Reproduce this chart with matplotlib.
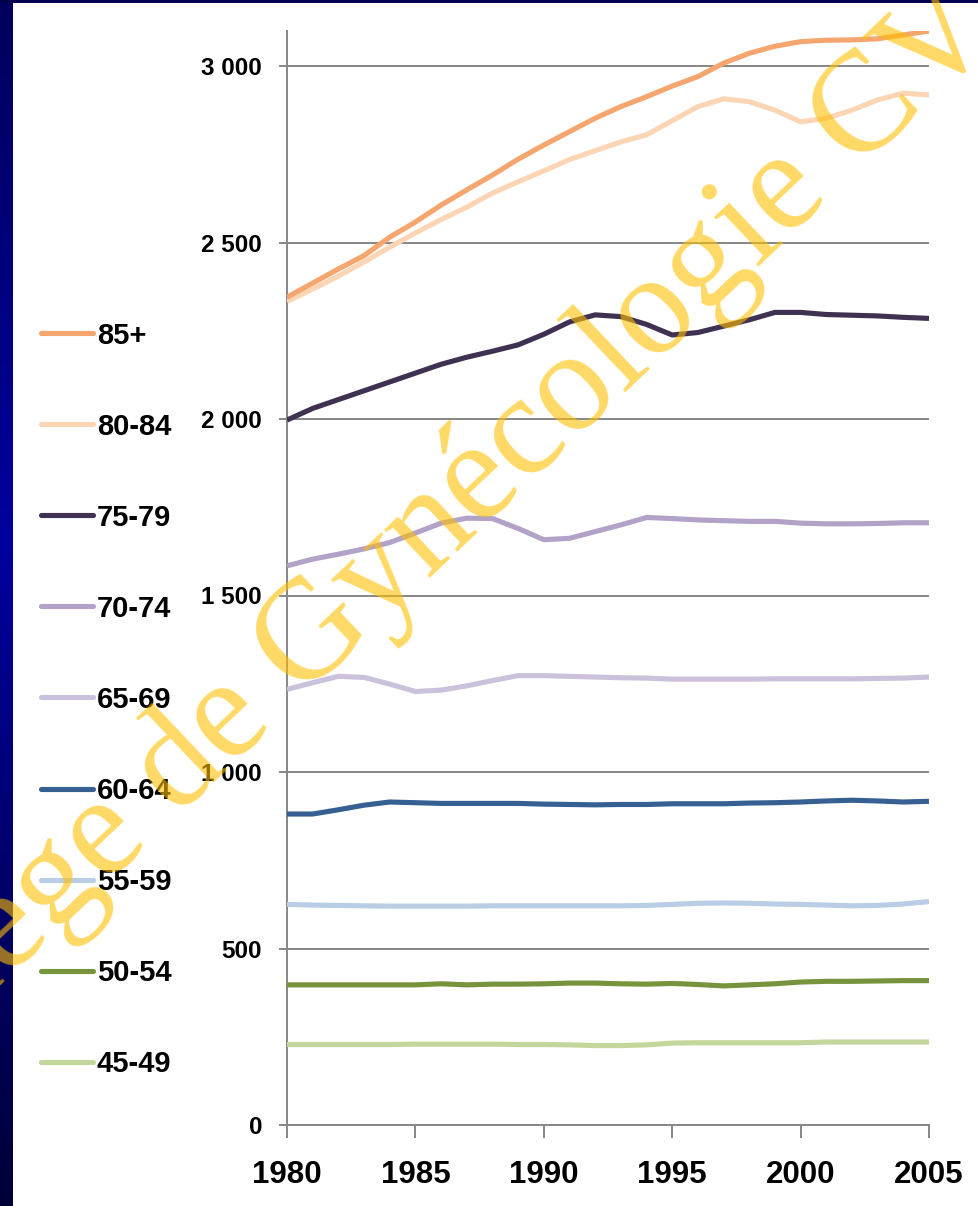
import matplotlib
matplotlib.use('Agg')
import matplotlib.pyplot as plt
from matplotlib.lines import Line2D
import numpy as np

# %%
##########
## Data ##
##########

years = list(range(1980, 2006))

labels = ['85+', '80-84', '75-79', '70-74', '65-69', '60-64', '55-59', '50-54', '45-49']
colors = ['#F5A66F', '#FCD5B5', '#3F3151', '#B2A2C7', '#CCC1DA',
          '#376092', '#B9CDE5', '#77933C', '#C3D69B']

a85 = [2345, 2385, 2425, 2463, 2515, 2558, 2606, 2649, 2691, 2736, 2776, 2814, 2852,
       2885, 2913, 2943, 2970, 3008, 3036, 3056, 3069, 3073, 3074, 3077, 3088, 3099]
a80 = [2333, 2368, 2405, 2445, 2487, 2527, 2565, 2600, 2640, 2672, 2703, 2735, 2760,
       2785, 2805, 2845, 2885, 2907, 2899, 2875, 2842, 2852, 2875, 2904, 2923, 2918]
a75 = [1997, 2030, 2055, 2080, 2105, 2130, 2155, 2175, 2192, 2210, 2240, 2275, 2295,
       2290, 2268, 2238, 2245, 2263, 2281, 2302, 2302, 2296, 2294, 2292, 2288, 2285]
a70 = [1584, 1603, 1617, 1632, 1650, 1677, 1705, 1719, 1718, 1690, 1658, 1662, 1681,
       1700, 1721, 1718, 1714, 1712, 1710, 1710, 1705, 1703, 1703, 1704, 1706, 1706]
a65 = [1234, 1253, 1271, 1268, 1249, 1228, 1232, 1244, 1259, 1273, 1273, 1271, 1269,
       1267, 1266, 1263, 1263, 1263, 1263, 1264, 1264, 1264, 1264, 1265, 1266, 1269]
a60 = [881, 881, 893, 906, 915, 913, 911, 911, 911, 911, 909, 908, 907,
       908, 908, 910, 910, 910, 912, 913, 915, 918, 920, 918, 915, 917]
a55 = [625, 623, 622, 621, 620, 620, 620, 620, 621, 621, 621, 621, 621,
       621, 622, 625, 628, 629, 628, 626, 625, 623, 621, 622, 626, 633]
a50 = [397, 397, 397, 397, 397, 397, 400, 397, 399, 399, 400, 402, 402,
       400, 399, 401, 398, 394, 397, 400, 405, 407, 407, 408, 409, 409]
a45 = [228, 228, 228, 228, 228, 229, 229, 229, 229, 228, 228, 227, 225,
       225, 227, 232, 233, 233, 233, 233, 233, 235, 235, 235, 235, 235]

series = [a85, a80, a75, a70, a65, a60, a55, a50, a45]

xticks = [1980, 1985, 1990, 1995, 2000, 2005]
yticks = [0, 500, 1000, 1500, 2000, 2500, 3000]
ytick_labels = ['0', '500', '1 000', '1 500', '2 000', '2 500', '3 000']

watermark = 'Collège de Gynécologie CVL'

# %%
##########
## Plot ##
##########

W, H = 979, 1206
fig = plt.figure(figsize=(W / 100, H / 100), dpi=100)
fig.patch.set_facecolor('white')

# slide frame: blue gradient strip on the left, thin navy band on top
strip = fig.add_axes([0, 0, 13 / W, 1])
grad = np.interp(np.linspace(0, 1, 256), [0, 0.45, 1], [0.36, 0.62, 0.22])
img = np.zeros((256, 1, 3))
img[:, 0, 2] = grad
strip.imshow(img, aspect='auto', extent=[0, 1, 0, 1])
strip.axis('off')
top = fig.add_axes([0, 1 - 3 / H, 1, 3 / H])
top.set_facecolor('#00004E')
top.set_xticks([])
top.set_yticks([])
for s in top.spines.values():
    s.set_visible(False)

y_top = 1125 - 3100 * 1059 / 3000
ax = fig.add_axes([287 / W, 1 - 1125 / H, 642 / W, (1125 - y_top) / H])
ax.set_xlim(1980, 2005)
ax.set_ylim(0, 3100)

grid_c = '#868686'
for v in yticks[1:]:
    ax.axhline(v, color=grid_c, lw=1.4, zorder=1)

for vals, c in list(zip(series, colors))[::-1]:
    ax.plot(years, vals, color=c, lw=3.7, solid_joinstyle='round',
            solid_capstyle='butt', zorder=3)

for s in ['top', 'right']:
    ax.spines[s].set_visible(False)
for s in ['left', 'bottom']:
    ax.spines[s].set_color(grid_c)
    ax.spines[s].set_linewidth(1.4)

font = 'Liberation Sans'
tick_font = {'family': font, 'weight': 'bold'}
ax.set_yticks(yticks)
ax.set_yticklabels(ytick_labels, fontdict=tick_font, fontsize=17.5)
ax.set_xticks(xticks)
ax.set_xticklabels([str(x) for x in xticks], fontdict=tick_font, fontsize=22.5)
ax.tick_params(axis='y', length=6, width=1.4, color=grid_c, pad=12)
ax.tick_params(axis='x', length=9, width=1.4, color=grid_c, pad=16)

# legend, drawn by hand in figure pixels
leg_y0, leg_dy = 333, 91.1
for i, (lab, c) in enumerate(zip(labels, colors)):
    yy = 1 - (leg_y0 + i * leg_dy) / H
    fig.add_artist(Line2D([41 / W, 93 / W], [yy, yy], transform=fig.transFigure,
                          color=c, lw=3.7, solid_capstyle='round'))
    fig.text(97 / W, yy - 10.5 / H, lab, fontsize=21, family=font,
             weight='bold', va='baseline', ha='left')

# watermark
fig.text(447 / W, 1 - 562 / H, watermark, fontsize=103, family='Liberation Serif',
         color='#FFC000', alpha=0.6, rotation=43.5, rotation_mode='anchor',
         ha='center', va='baseline', zorder=10)

fig.savefig('out.png', dpi=100)
